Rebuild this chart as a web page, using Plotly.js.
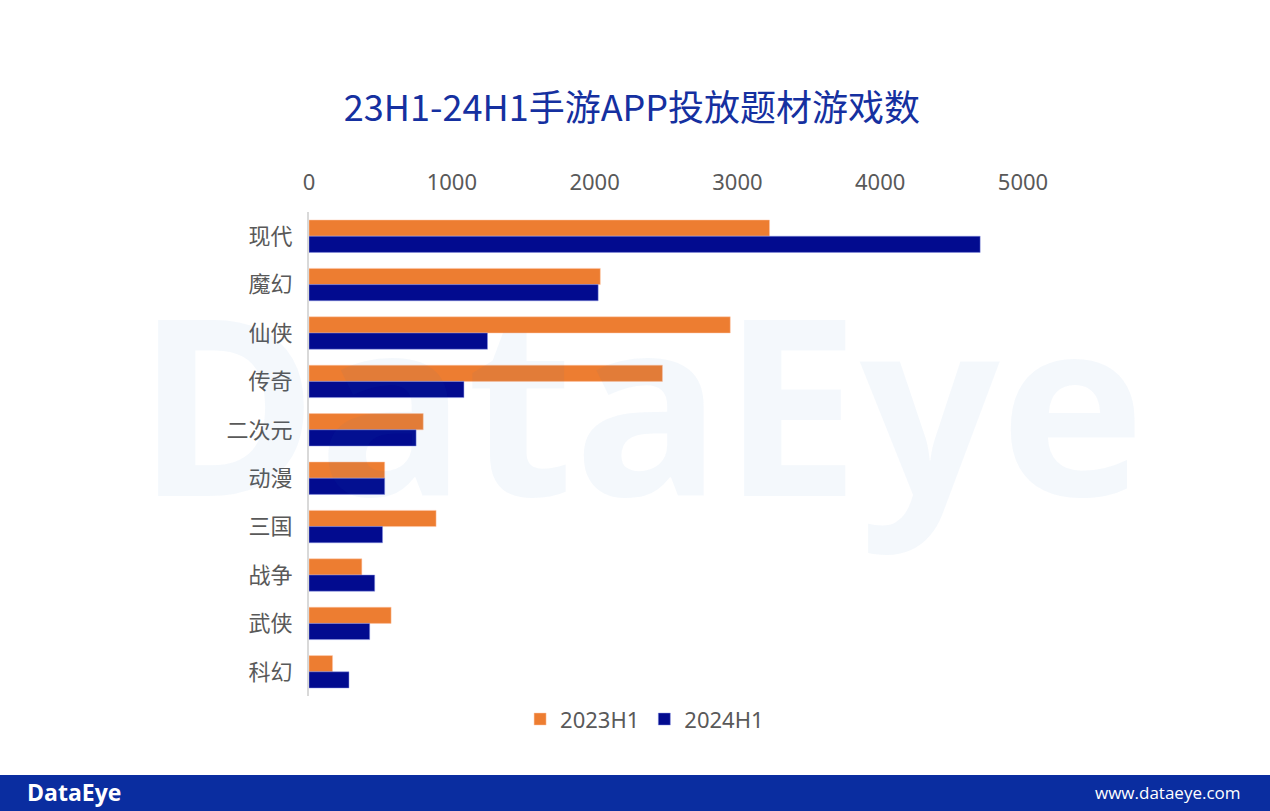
<!DOCTYPE html>
<html>
<head>
<meta charset="utf-8">
<script src="https://cdn.plot.ly/plotly-3.0.1.min.js"></script>
<style>
html,body{margin:0;padding:0;background:#fff;}
#chart{width:1270px;height:811px;}
</style>
</head>
<body>
<div id="chart"></div>
<script>
const categories = ["现代","魔幻","仙侠","传奇","二次元","动漫","三国","战争","武侠","科幻"];
const series2023 = [3225, 2040, 2950, 2475, 800, 530, 890, 370, 575, 165];
const series2024 = [4700, 2025, 1250, 1085, 750, 530, 515, 460, 425, 280];
const seriesNames = ["2023H1","2024H1"];
const xTicks = [0,1000,2000,3000,4000,5000];

const fontFam = '"Noto Sans CJK SC", "Noto Sans", sans-serif';

const traces = [
  {type:'bar', orientation:'h', name:seriesNames[0], y:categories, x:series2023,
   marker:{color:'#ED7D31', line:{color:'rgba(255,200,170,0.8)', width:0.6}}, hoverinfo:'x+y'},
  {type:'bar', orientation:'h', name:seriesNames[1], y:categories, x:series2024,
   marker:{color:'#020B8F', line:{color:'rgba(140,150,230,0.8)', width:0.6}}, hoverinfo:'x+y'}
];

const layout = {
  width:1270, height:811,
  paper_bgcolor:'#ffffff', plot_bgcolor:'rgba(0,0,0,0)',
  margin:{l:309, r:247, t:212, b:115},
  barmode:'group', bargap:0.33, bargroupgap:0,
  font:{family:fontFam, color:'#595959'},
  title:{text:'23H1-24H1手游APP投放题材游戏数', font:{family:fontFam, size:36, color:'#1530A0'},
         x:632/1270, xref:'container', y:1-108/811, yref:'container', yanchor:'middle', xanchor:'center'},
  xaxis:{side:'top', range:[0,5000], tickvals:xTicks, ticktext:xTicks.map(String),
         showgrid:false, zeroline:false, showline:false,
         ticks:'outside', ticklen:12, tickcolor:'rgba(0,0,0,0)',
         tickfont:{family:'"Noto Sans", sans-serif', size:22, color:'#595959'}, fixedrange:true},
  yaxis:{type:'category', autorange:'reversed', showgrid:false, zeroline:false,
         showline:true, linecolor:'#d9d9d9', linewidth:2,
         ticks:'outside', ticklen:10, tickcolor:'rgba(0,0,0,0)',
         tickfont:{family:fontFam, size:22, color:'#595959'}},
  showlegend:true,
  legend:{orientation:'h', x:0.47, xanchor:'center', y:-0.048, yanchor:'middle',
          font:{family:'"Noto Sans", sans-serif', size:22, color:'#595959'}, itemwidth:30, traceorder:'normal'},
  shapes:[
    {type:'rect', xref:'paper', yref:'paper', x0:-309/714, x1:(1270-309)/714,
     y0:-(811-696)/484, y1:-(775-696)/484, fillcolor:'#0A2DA0', line:{width:0}, layer:'above'}
  ],
  annotations:[
    {text:'<b>DataEye</b>', xref:'paper', yref:'paper', x:(640-309)/714, y:(696-400)/484,
     xanchor:'center', yanchor:'middle', showarrow:false,
     font:{family:'"Open Sans", sans-serif', size:246, color:'rgba(40,120,200,0.05)'}},
    {text:'<b>DataEye</b>', xref:'paper', yref:'paper', x:(25-309)/714, y:-(792-696)/484,
     xanchor:'left', yanchor:'middle', showarrow:false,
     font:{family:'"Open Sans", sans-serif', size:23, color:'#ffffff'}},
    {text:'www.dataeye.com', xref:'paper', yref:'paper', x:(1243-309)/714, y:-(792-696)/484,
     xanchor:'right', yanchor:'middle', showarrow:false,
     font:{family:'"Open Sans", sans-serif', size:17, color:'#ffffff'}}
  ]
};

Plotly.newPlot('chart', traces, layout, {displayModeBar:false, staticPlot:true});
</script>
</body>
</html>
